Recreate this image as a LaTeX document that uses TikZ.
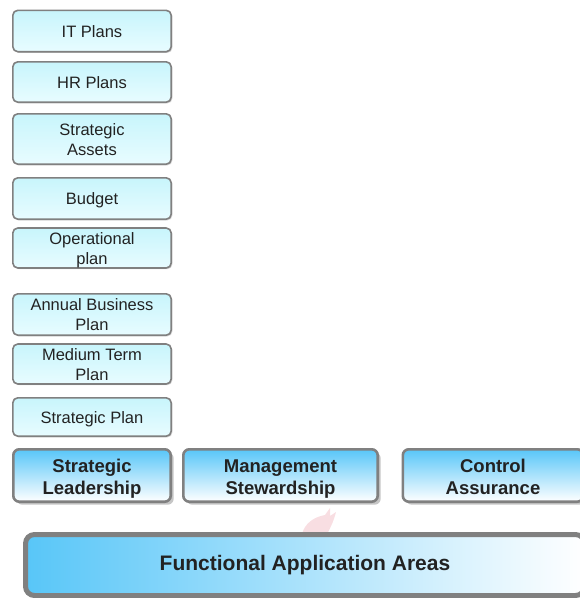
\documentclass[tikz,border=0pt]{standalone}
\usepackage{fontspec}
\setmainfont{Liberation Sans}
\usetikzlibrary{shadows}
\definecolor{planfill}{RGB}{200,245,252}
\definecolor{planfilltwo}{RGB}{232,252,255}
\definecolor{areablue}{RGB}{88,198,248}
\definecolor{framegray}{RGB}{128,128,128}
\definecolor{textdark}{RGB}{34,34,34}
\definecolor{flamepink}{RGB}{236,160,172}

% fixed line heights, whatever the descenders
\newcommand{\plantext}[1]{\raisebox{-2pt}[\height][\depth]{\begin{tabular}{@{}c@{}}#1\end{tabular}}}
\newcommand{\areatext}[1]{\raisebox{-3.5pt}[\height][\depth]{\begin{tabular}{@{}c@{}}#1\end{tabular}}}

\tikzset{
  planbox/.style={draw=framegray, line width=1.6pt, rounded corners=5pt,
    top color=planfill, bottom color=planfilltwo, minimum width=158.4pt,
    inner sep=0pt, text=textdark,
    font=\fontsize{16.5}{20}\selectfont,
    drop shadow={shadow xshift=1.2pt, shadow yshift=-1.2pt, fill=gray, opacity=0.35}},
  areabox/.style={draw=framegray, line width=2.6pt, rounded corners=6pt,
    top color=areablue, middle color=areablue!22, bottom color=white, minimum height=52.4pt,
    inner sep=0pt, text=textdark,
    font=\fontsize{18.5}{22}\selectfont\bfseries,
    drop shadow={shadow xshift=3pt, shadow yshift=-3pt, fill=gray, opacity=0.45}},
  basebar/.style={draw=framegray, line width=5pt, rounded corners=9pt,
    left color=areablue, middle color=areablue!45, right color=white,
    minimum width=559pt, minimum height=61pt, inner sep=0pt,
    text=textdark, font=\fontsize{21}{25}\selectfont\bfseries}
}

\begin{document}
\begin{tikzpicture}[x=1pt, y=-1pt]
    \useasboundingbox (0,0) rectangle (580,598);

    % ==== Plan stack ====
    \node[planbox, minimum height=41.4pt] (itplans) at (92, 31) {\plantext{IT Plans}};
    \node[planbox, minimum height=40.4pt] (hrplans) at (92, 82) {\plantext{HR Plans}};
    \node[planbox, minimum height=50.4pt] (assets) at (92, 139) {\plantext{Strategic\\Assets}};
    \node[planbox, minimum height=41.4pt] (budget) at (92, 198.5) {\plantext{Budget}};
    \node[planbox, minimum height=38.4pt] (opplan) at (92, 248) {\plantext{Operational\\plan}};
    \node[planbox, minimum height=41.4pt] (annual) at (92, 314.5) {\plantext{Annual Business\\Plan}};
    \node[planbox, minimum height=36.4pt] (medium) at (92, 364) {\plantext{Medium Term\\Plan}};
    \node[planbox, minimum height=38.4pt] (stratplan) at (92, 417) {\plantext{Strategic Plan}};

    % ==== Area row ====
    \node[areabox, minimum width=157.4pt] (leadership) at (92, 475.5) {\areatext{Strategic\\Leadership}};
    \node[areabox, minimum width=194.4pt] (stewardship) at (280.5, 475.5) {\areatext{Management\\Stewardship}};
    \node[areabox, minimum width=180.4pt] (assurance) at (493, 475.5) {\areatext{Control\\Assurance}};

    % Faint flame behind the bar
    \fill[flamepink, opacity=0.35] (302,534) .. controls (305,523) and (314,517) .. (325,515)
        -- (330,508) -- (330,516) -- (336,512) .. controls (334,520) and (331,527) .. (327,534) -- cycle;

    % ==== Base bar ====
    \node[basebar] (functional) at (305, 565) {Functional Application Areas};
\end{tikzpicture}
\end{document}
